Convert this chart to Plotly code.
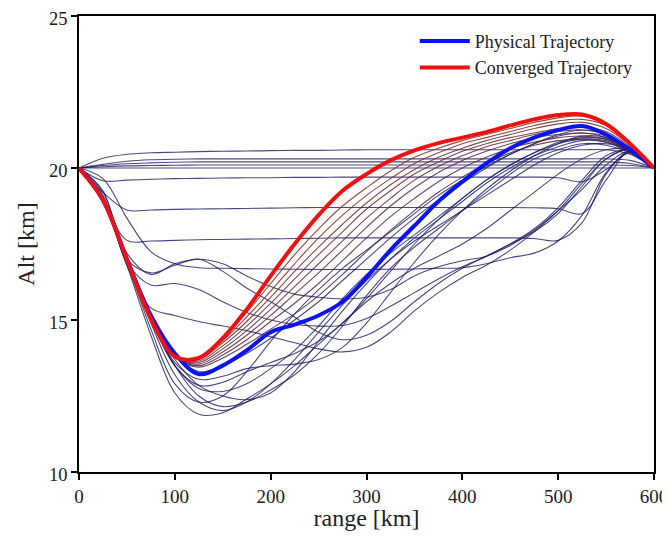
import plotly.graph_objects as go

# ---------------- data ----------------
range_km = [0, 25, 50, 75, 100, 125, 150, 175, 200, 225, 250, 275, 300,
            325, 350, 375, 400, 425, 450, 475, 500, 525, 550, 575, 600]

physical_alt = [20, 18.95, 17.0, 15.15, 13.9, 13.22, 13.5, 14.0, 14.6, 14.85, 15.15, 15.6, 16.4,
                17.3, 18.1, 18.9, 19.55, 20.15, 20.65, 21.0, 21.25, 21.38, 21.1, 20.6, 20]

converged_alt = [20, 18.95, 17.0, 15.05, 13.8, 13.75, 14.4, 15.35, 16.45, 17.5, 18.45, 19.25, 19.8,
                 20.25, 20.58, 20.82, 21.0, 21.18, 21.4, 21.6, 21.74, 21.76, 21.45, 20.8, 20]

# early iterations (nearly flat profiles)
early_iterations_alt = [
    [20, 20, 20, 20, 20, 20, 20, 20, 20, 20, 20, 20, 20, 20, 20, 20, 20, 20, 20, 20, 20, 20, 20, 20, 20],
    [20, 20.04, 20.07, 20.08, 20.09, 20.1, 20.1, 20.1, 20.1, 20.1, 20.1, 20.1, 20.1, 20.1, 20.1, 20.1, 20.1, 20.1, 20.1, 20.1, 20.1, 20.1, 20.1, 20.08, 20],
    [20, 20.08, 20.14, 20.17, 20.19, 20.2, 20.2, 20.2, 20.2, 20.2, 20.2, 20.2, 20.2, 20.2, 20.2, 20.2, 20.2, 20.2, 20.2, 20.2, 20.2, 20.2, 20.2, 20.15, 20],
    [20, 20.12, 20.22, 20.27, 20.29, 20.3, 20.3, 20.3, 20.3, 20.3, 20.3, 20.3, 20.3, 20.3, 20.3, 20.3, 20.3, 20.3, 20.3, 20.3, 20.3, 20.3, 20.3, 20.25, 20],
    [20, 20.32, 20.45, 20.5, 20.52, 20.54, 20.55, 20.56, 20.57, 20.58, 20.58, 20.59, 20.6, 20.6, 20.6, 20.6, 20.6, 20.6, 20.6, 20.6, 20.6, 20.6, 20.6, 20.45, 20],
    [20, 19.58, 19.6, 19.63, 19.65, 19.66, 19.67, 19.68, 19.68, 19.69, 19.69, 19.7, 19.7, 19.7, 19.7, 19.7, 19.7, 19.7, 19.7, 19.7, 19.68, 19.55, 19.95, 20.5, 20],
    [20, 19.2, 18.62, 18.62, 18.64, 18.65, 18.66, 18.67, 18.68, 18.69, 18.7, 18.7, 18.7, 18.7, 18.7, 18.7, 18.7, 18.7, 18.7, 18.69, 18.66, 18.5, 19.6, 20.55, 20],
    [20, 18.95, 17.62, 17.6, 17.62, 17.64, 17.65, 17.66, 17.67, 17.68, 17.69, 17.7, 17.7, 17.7, 17.7, 17.7, 17.7, 17.7, 17.7, 17.68, 17.62, 18.2, 19.8, 20.55, 20],
    [20, 19.65, 18.35, 17.25, 16.85, 16.72, 16.7, 16.69, 16.68, 16.67, 16.66, 16.66, 16.66, 16.67, 16.68, 16.7, 16.72, 16.85, 17.05, 17.2, 17.6, 18.45, 19.85, 20.5, 20],
]

# intermediate iterations
mid_iterations_alt = [
    [20, 19.2, 17.2, 16.5, 16.85, 17.0, 16.85, 16.45, 16.1, 15.85, 15.75, 15.7, 15.75, 16.0, 16.45, 16.75, 16.95, 17.1, 17.45, 17.95, 18.6, 19.3, 20.1, 20.55, 20],
    [20, 19.25, 17.0, 16.55, 16.8, 17.0, 16.6, 16.05, 15.6, 15.1, 14.6, 14.35, 14.5, 14.95, 15.6, 16.2, 16.7, 17.1, 17.5, 18.0, 18.7, 19.6, 20.4, 20.6, 20],
    [20, 19.1, 16.9, 16.15, 16.2, 16.0, 15.6, 15.25, 15.0, 14.85, 14.8, 14.82, 15.05, 15.45, 15.9, 16.35, 16.75, 17.1, 17.5, 17.9, 18.5, 19.4, 20.3, 20.6, 20],
    [20, 19.0, 16.8, 15.4, 15.15, 14.95, 14.8, 14.65, 14.45, 14.25, 14.05, 13.95, 14.1, 14.6, 15.3, 15.9, 16.4, 16.8, 17.3, 17.9, 18.6, 19.5, 20.3, 20.6, 20],
    [20, 18.9, 16.8, 14.5, 12.6, 11.9, 11.95, 12.4, 12.9, 13.5, 14.2, 14.9, 15.6, 16.2, 16.7, 17.1, 17.5, 18.0, 18.6, 19.2, 19.8, 20.3, 20.6, 20.6, 20],
    [20, 18.9, 16.9, 14.9, 13.2, 12.3, 12.02, 12.3, 12.9, 13.7, 14.6, 15.5, 16.3, 17.0, 17.6, 18.1, 18.6, 19.1, 19.6, 20.1, 20.5, 20.75, 20.8, 20.6, 20],
    [20, 18.9, 16.95, 15.0, 13.5, 12.5, 12.15, 12.3, 12.7, 13.2, 13.9, 14.8, 15.8, 16.7, 17.4, 18.0, 18.6, 19.2, 19.8, 20.3, 20.6, 20.8, 20.75, 20.5, 20],
    [20, 18.9, 16.95, 15.05, 13.7, 12.85, 12.5, 12.38, 12.6, 13.3, 14.3, 15.3, 16.2, 17.0, 17.7, 18.3, 18.9, 19.5, 20.0, 20.4, 20.7, 20.9, 20.85, 20.55, 20],
    [20, 18.9, 16.95, 15.0, 13.5, 12.75, 12.65, 12.9, 13.4, 14.0, 14.8, 15.7, 16.5, 17.2, 17.8, 18.4, 19.0, 19.6, 20.1, 20.5, 20.8, 20.95, 20.9, 20.55, 20],
    [20, 18.9, 16.95, 15.05, 13.5, 12.85, 12.95, 13.3, 13.6, 13.9, 14.3, 14.9, 15.7, 16.6, 17.5, 18.3, 19.0, 19.6, 20.1, 20.5, 20.85, 21.0, 20.95, 20.6, 20],
    [20, 18.9, 16.95, 15.05, 13.6, 13.05, 13.15, 13.4, 13.5, 13.55, 13.7, 14.1, 14.9, 15.9, 16.9, 17.8, 18.6, 19.3, 19.9, 20.4, 20.8, 21.05, 21.0, 20.6, 20],
    [20, 18.9, 16.9, 14.7, 12.9, 12.3, 12.5, 13.3, 14.3, 15.2, 16.0, 16.7, 17.3, 17.9, 18.5, 19.1, 19.6, 20.05, 20.45, 20.8, 21.05, 21.15, 21.0, 20.6, 20],
    [20, 18.9, 16.95, 15.1, 13.85, 13.3, 13.5, 13.9, 14.4, 15.0, 15.6, 16.3, 17.0, 17.7, 18.35, 18.95, 19.5, 20.0, 20.45, 20.8, 21.1, 21.25, 21.1, 20.65, 20],
]

# late iterations (approaching convergence)
late_iterations_alt = [
    [20, 18.95, 16.98, 15.08, 13.8, 13.45, 13.75, 14.2, 14.7, 15.2, 15.8, 16.5, 17.25, 17.95, 18.6, 19.2, 19.7, 20.15, 20.5, 20.75, 20.9, 20.95, 20.85, 20.5, 20],
    [20, 18.95, 16.98, 15.07, 13.8, 13.5, 13.85, 14.35, 14.95, 15.55, 16.2, 16.95, 17.7, 18.4, 19.0, 19.55, 20.0, 20.35, 20.65, 20.85, 21.0, 21.05, 20.95, 20.55, 20],
    [20, 18.95, 16.99, 15.06, 13.8, 13.55, 13.95, 14.5, 15.15, 15.85, 16.55, 17.3, 18.05, 18.75, 19.35, 19.85, 20.25, 20.55, 20.8, 21.0, 21.1, 21.15, 21.05, 20.6, 20],
    [20, 18.95, 16.99, 15.06, 13.8, 13.6, 14.05, 14.65, 15.35, 16.1, 16.85, 17.6, 18.35, 19.0, 19.6, 20.05, 20.4, 20.7, 20.9, 21.1, 21.2, 21.25, 21.1, 20.65, 20],
    [20, 18.95, 17.0, 15.05, 13.8, 13.65, 14.15, 14.8, 15.55, 16.35, 17.15, 17.9, 18.65, 19.25, 19.8, 20.2, 20.55, 20.8, 21.0, 21.15, 21.3, 21.35, 21.2, 20.7, 20],
    [20, 18.95, 17.0, 15.05, 13.8, 13.7, 14.25, 14.95, 15.75, 16.6, 17.4, 18.15, 18.85, 19.45, 19.95, 20.35, 20.65, 20.9, 21.1, 21.3, 21.45, 21.5, 21.3, 20.75, 20],
    [20, 18.95, 17.0, 15.05, 13.8, 13.72, 14.32, 15.1, 15.95, 16.85, 17.7, 18.45, 19.1, 19.65, 20.15, 20.5, 20.8, 21.0, 21.2, 21.4, 21.55, 21.6, 21.4, 20.78, 20],
    [20, 18.95, 17.0, 15.05, 13.8, 13.75, 14.38, 15.25, 16.2, 17.15, 18.0, 18.75, 19.35, 19.9, 20.35, 20.65, 20.9, 21.1, 21.3, 21.5, 21.65, 21.7, 21.45, 20.8, 20],
]

x_ticks = [0, 100, 200, 300, 400, 500, 600]
y_ticks = [10, 15, 20, 25]

# ---------------- figure ----------------
FONT = "Liberation Serif, Times New Roman, serif"
fig = go.Figure()

navy = "rgba(28,28,98,0.8)"
for ys in early_iterations_alt + mid_iterations_alt:
    fig.add_trace(go.Scatter(x=range_km, y=ys, mode="lines", line=dict(color=navy, width=1.1, shape="spline"),
                             showlegend=False, hoverinfo="skip"))

n_late = len(late_iterations_alt)
for i, ys in enumerate(late_iterations_alt):
    t = i / max(n_late - 1, 1)
    r = int(75 + 55 * t)
    g = int(35 + 10 * t)
    b = int(70 - 40 * t)
    fig.add_trace(go.Scatter(x=range_km, y=ys, mode="lines",
                             line=dict(color=f"rgba({r},{g},{b},0.85)", width=1.1, shape="spline"),
                             showlegend=False, hoverinfo="skip"))

fig.add_trace(go.Scatter(x=range_km, y=physical_alt, mode="lines", name="Physical Trajectory",
                         line=dict(color="#0a14f0", width=4, shape="spline")))
fig.add_trace(go.Scatter(x=range_km, y=converged_alt, mode="lines", name="Converged Trajectory",
                         line=dict(color="#f01010", width=4, shape="spline")))

axis_common = dict(showline=True, linecolor="black", linewidth=1.6, mirror=True,
                   ticks="outside", ticklen=6, tickwidth=1.6, tickcolor="black",
                   showgrid=False, zeroline=False, automargin=False,
                   ticklabeloverflow="allow")

fig.update_xaxes(range=[0, 600], tickvals=x_ticks,
                 tickfont=dict(family=FONT, size=19, color="#222"),
                 title=dict(text="range [km]", font=dict(family=FONT, size=24, color="#222"), standoff=4),
                 **axis_common)
fig.update_yaxes(range=[10, 25], tickvals=y_ticks,
                 tickfont=dict(family=FONT, size=18.5, color="#222"), ticklabelshift=3,
                 title=dict(text="Alt [km]", font=dict(family=FONT, size=24, color="#222"), standoff=8),
                 **axis_common)

# page body adds an 8px margin, so the figure is sized/offset to land on the reference pixels
fig.update_layout(
    width=662, height=523,
    margin=dict(l=71, r=16, t=8, b=59),
    plot_bgcolor="white", paper_bgcolor="white",
    legend=dict(x=0.584, y=0.985, xanchor="left", yanchor="top", bgcolor="rgba(0,0,0,0)",
                font=dict(family=FONT, size=18, color="#222"), itemwidth=50, tracegroupgap=0),
)

fig.write_html("out.html")
